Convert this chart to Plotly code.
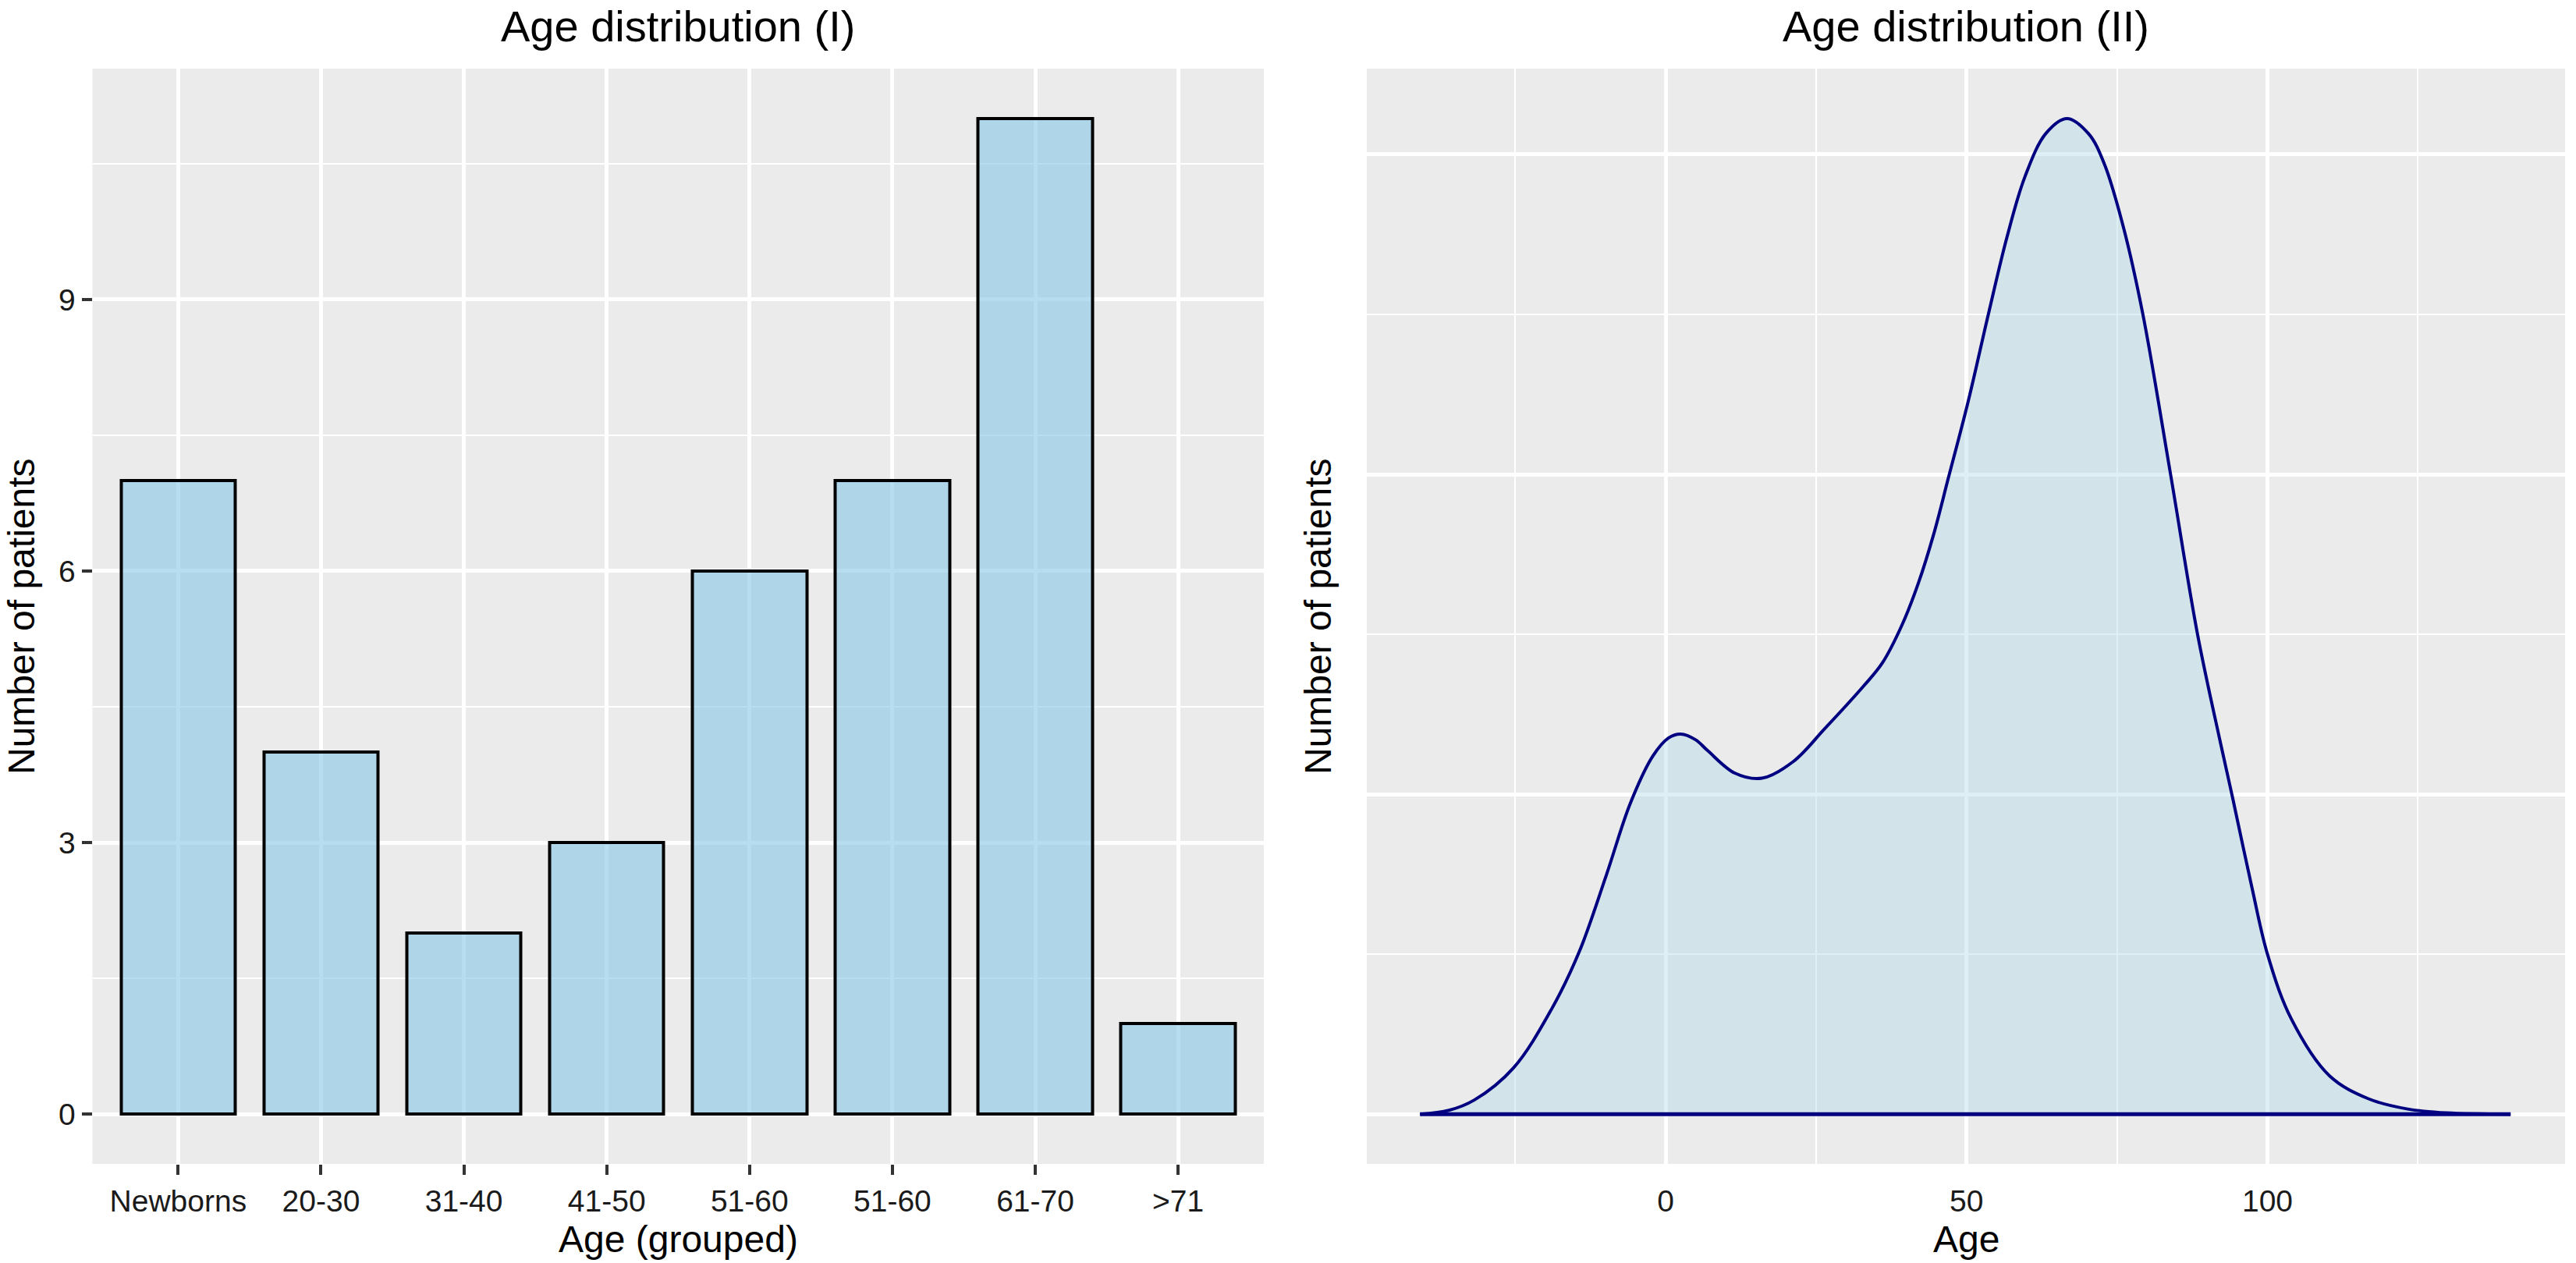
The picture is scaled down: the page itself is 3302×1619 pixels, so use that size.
import plotly.graph_objects as go

# ---------------- data ----------------
age_groups = ["Newborns", "20-30", "31-40", "41-50", "51-60", "51-60", "61-70", ">71"]
patients = [7, 4, 2, 3, 6, 7, 11, 1]

age = [-40.8, -36.0, -31.8, -25.3, -18.9, -14.3, -9.8, -5.9, -2.1, 0.5, 2.5, 5.0, 7.0, 11.5,
       16.0, 21.2, 26.4, 32.8, 36.0, 39.3, 42.0, 44.5, 47.0, 50.3, 53.5, 56.7, 59.7, 63.2,
       66.7, 70.3, 72.9, 76.1, 79.3, 83.9, 88.4, 92.2, 94.2, 97.4, 100.0, 103.9, 110.3,
       116.8, 123.3, 129.7, 140.4]
density = [0.0, 0.00006, 0.00022, 0.00072, 0.00165, 0.00255, 0.00375, 0.00485, 0.00560,
           0.00588, 0.00594, 0.00585, 0.00568, 0.00533, 0.00525, 0.00551, 0.00602, 0.00668,
           0.00705, 0.00765, 0.00830, 0.00905, 0.00995, 0.01115, 0.01245, 0.01370, 0.01465,
           0.01533, 0.01556, 0.01532, 0.01485, 0.01385, 0.01250, 0.01000, 0.00749, 0.00580,
           0.00495, 0.00355, 0.00250, 0.00150, 0.00060, 0.00024, 0.00008, 0.00002, 0.0]

bar_ticks = list(range(1, len(age_groups) + 1))
age_ticks = [0, 50, 100]
age_minor = [-25, 25, 75, 125]
dens_ticks = [0, 0.005, 0.010, 0.015]
dens_minor = [0.0025, 0.0075, 0.0125]
count_ticks = [0, 3, 6, 9]
count_minor = [1.5, 4.5, 7.5, 10.5]

W, H = 3302, 1619
FONT = "Liberation Sans, Arial, sans-serif"
PANEL = "#EBEBEB"

def px_x(v):
    return v / W

def px_y(v):
    return 1 - v / H

fig = go.Figure()

fig.add_trace(go.Bar(
    x=bar_ticks, y=patients, width=0.8,
    marker=dict(color="rgba(135,198,232,0.6)", line=dict(color="black", width=4)),
    xaxis="x", yaxis="y", showlegend=False, hoverinfo="skip",
))

fig.add_trace(go.Scatter(
    x=age, y=density, mode="lines", fill="tozeroy",
    fillcolor="rgba(173,216,230,0.4)",
    line=dict(color="#000080", width=4, shape="spline", smoothing=1.0),
    xaxis="x2", yaxis="y2", showlegend=False, hoverinfo="skip",
))
fig.add_trace(go.Scatter(
    x=[age[0], age[-1]], y=[density[0], density[-1]], mode="lines",
    line=dict(color="#000080", width=5),
    xaxis="x2", yaxis="y2", showlegend=False, hoverinfo="skip",
))

ydom = [px_y(1492), px_y(88)]
tickfont = dict(family=FONT, size=39, color="#1a1a1a")
grid_major = dict(showgrid=True, gridcolor="white", gridwidth=4.5, zeroline=False,
                  showline=False)

fig.update_layout(
    width=W, height=H,
    margin=dict(l=0, r=0, t=0, b=0),
    paper_bgcolor="white", plot_bgcolor=PANEL,
    font=dict(family=FONT, color="black"),
    bargap=0,
    xaxis=dict(domain=[px_x(118.5), px_x(1620)], range=[0.4, 8.6],
               tickvals=bar_ticks, ticktext=age_groups, tickfont=tickfont,
               ticks="outside", ticklen=13, tickwidth=4, tickcolor="#333333",
               **grid_major),
    yaxis=dict(domain=ydom, range=[-0.55, 11.55], tickvals=count_ticks,
               tickfont=tickfont, ticks="outside", ticklen=13, tickwidth=4,
               tickcolor="#333333",
               minor=dict(tickvals=count_minor, showgrid=True, gridcolor="white",
                          gridwidth=2.2, ticks=""),
               **grid_major),
    xaxis2=dict(domain=[px_x(1752), px_x(3288)], range=[-49.65, 149.45],
                tickvals=age_ticks, tickfont=tickfont,
                ticks="outside", ticklen=13, tickwidth=4, tickcolor="rgba(0,0,0,0)",
                minor=dict(tickvals=age_minor, showgrid=True, gridcolor="white",
                           gridwidth=2.2, ticks=""),
                anchor="y2", **grid_major),
    yaxis2=dict(domain=ydom, range=[-0.000778, 0.01634], tickvals=dens_ticks,
                showticklabels=False, ticks="",
                minor=dict(tickvals=dens_minor, showgrid=True, gridcolor="white",
                           gridwidth=2.2, ticks=""),
                anchor="x2", **grid_major),
)

ann = [
    dict(text="Age distribution (I)", x=px_x(869), y=px_y(34), size=56, angle=0),
    dict(text="Age distribution (II)", x=px_x(2520), y=px_y(34), size=56, angle=0),
    dict(text="Age (grouped)", x=px_x(869), y=px_y(1588), size=48, angle=0),
    dict(text="Age", x=px_x(2520), y=px_y(1588), size=48, angle=0),
    dict(text="Number of patients", x=px_x(27), y=px_y(790), size=48, angle=-90),
    dict(text="Number of patients", x=px_x(1689), y=px_y(790), size=48, angle=-90),
]
for a in ann:
    fig.add_annotation(text=a["text"], x=a["x"], y=a["y"], xref="paper", yref="paper",
                       xanchor="center", yanchor="middle", showarrow=False,
                       textangle=a["angle"],
                       font=dict(family=FONT, size=a["size"], color="black"))

fig.write_html("out.html", config={"displayModeBar": False},
               post_script="document.body.style.margin='0';document.body.style.overflow='hidden';")
